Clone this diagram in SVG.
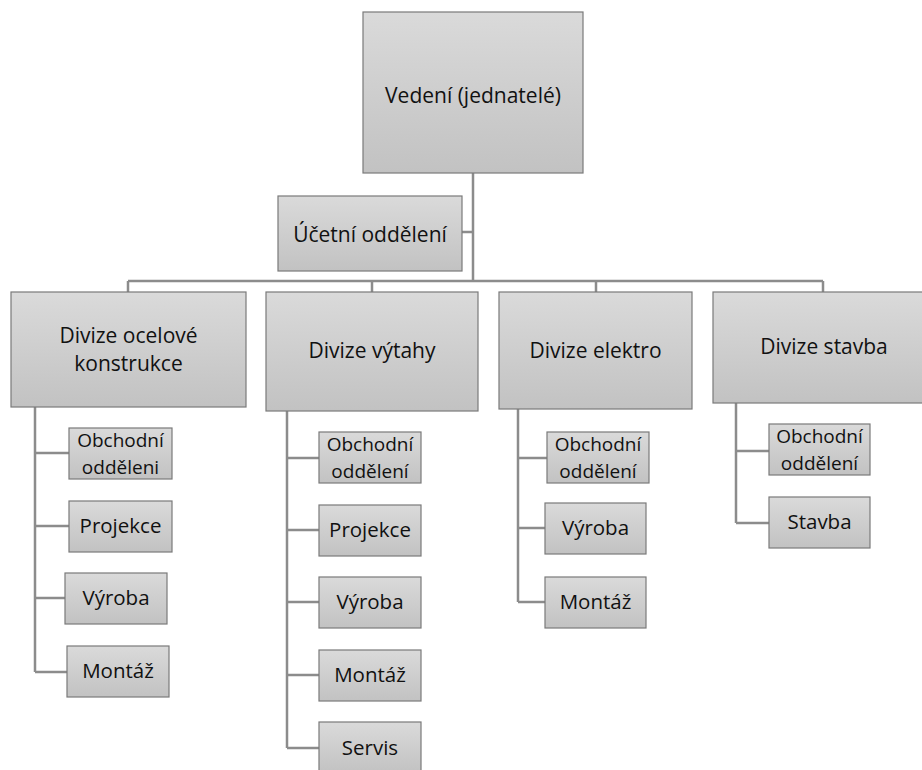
<svg xmlns="http://www.w3.org/2000/svg" width="922" height="770" viewBox="0 0 922 770">
<defs>
<linearGradient id="g" x1="0" y1="0" x2="0" y2="1">
<stop offset="0" stop-color="#dadada"/>
<stop offset="1" stop-color="#c2c2c2"/>
</linearGradient>
<style>
.b{fill:url(#g);stroke:#7a7a7a;stroke-width:1.2}
.t{font-family:"Open Sans","Noto Sans",sans-serif;font-size:21px;fill:#111;text-anchor:middle}
.s{font-size:20.5px}
.d{font-size:19px}
.c{fill:none;stroke:#8c8c8c;stroke-width:2.5}
</style>
</defs>
<rect width="922" height="770" fill="#fff"/>
<g id="connectors" class="c">
<path d="M473 173V281M462 232H473M128 281H823M128 281V292M372 281V292M596 281V292M823 281V292"/>
<path d="M35 407V672M35 453H69M35 526H69M35 598H65M35 672H67"/>
<path d="M287 411V748M287 458H319M287 530H319M287 602H319M287 675H319M287 748H319"/>
<path d="M518 409V602M518 458H547M518 528H545M518 602H545"/>
<path d="M736 403V523M736 451H769M736 523H769"/>
</g>
<g id="vedeni"><rect class="b" x="363" y="12" width="220" height="161"/><text class="t" x="473" y="103">Vedení (jednatelé)</text></g>
<g id="ucetni"><rect class="b" x="278" y="196" width="184" height="75"/><text class="t" x="370" y="242">Účetní oddělení</text></g>
<g id="div-ocel"><rect class="b" x="11" y="292" width="235" height="115"/><text class="t" x="128.5" y="343">Divize ocelové</text><text class="t" x="128.5" y="371">konstrukce</text></g>
<g id="div-vytahy"><rect class="b" x="266" y="292" width="212" height="119"/><text class="t" x="372" y="358">Divize výtahy</text></g>
<g id="div-elektro"><rect class="b" x="499" y="292" width="193" height="117"/><text class="t" x="595.5" y="358">Divize elektro</text></g>
<g id="div-stavba"><rect class="b" x="713" y="292" width="212" height="111"/><text class="t" x="824" y="354">Divize stavba</text></g>
<g id="o-obch"><rect class="b" x="69" y="428" width="103" height="51"/><text class="t d" x="120.5" y="447">Obchodní</text><text class="t d" x="120.5" y="474">odděleni</text></g>
<g id="o-proj"><rect class="b" x="69" y="501" width="103" height="51"/><text class="t s" x="120.5" y="533">Projekce</text></g>
<g id="o-vyr"><rect class="b" x="65" y="573" width="102" height="51"/><text class="t s" x="116" y="605">Výroba</text></g>
<g id="o-mont"><rect class="b" x="67" y="646" width="102" height="51"/><text class="t s" x="118" y="678">Montáž</text></g>
<g id="v-obch"><rect class="b" x="319" y="432" width="102" height="51"/><text class="t d" x="370" y="451">Obchodní</text><text class="t d" x="370" y="478">oddělení</text></g>
<g id="v-proj"><rect class="b" x="319" y="505" width="102" height="51"/><text class="t s" x="370" y="537">Projekce</text></g>
<g id="v-vyr"><rect class="b" x="319" y="577" width="102" height="51"/><text class="t s" x="370" y="609">Výroba</text></g>
<g id="v-mont"><rect class="b" x="319" y="650" width="102" height="51"/><text class="t s" x="370" y="682">Montáž</text></g>
<g id="v-serv"><rect class="b" x="319" y="722" width="102" height="51"/><text class="t s" x="370" y="755">Servis</text></g>
<g id="e-obch"><rect class="b" x="547" y="432" width="102" height="51"/><text class="t d" x="598" y="451">Obchodní</text><text class="t d" x="598" y="478">oddělení</text></g>
<g id="e-vyr"><rect class="b" x="545" y="503" width="101" height="51"/><text class="t s" x="595.5" y="535">Výroba</text></g>
<g id="e-mont"><rect class="b" x="545" y="577" width="101" height="51"/><text class="t s" x="595.5" y="609">Montáž</text></g>
<g id="s-obch"><rect class="b" x="769" y="424" width="101" height="51"/><text class="t d" x="819.5" y="443">Obchodní</text><text class="t d" x="819.5" y="470">oddělení</text></g>
<g id="s-stav"><rect class="b" x="769" y="497" width="101" height="51"/><text class="t s" x="819.5" y="529">Stavba</text></g>
</svg>
